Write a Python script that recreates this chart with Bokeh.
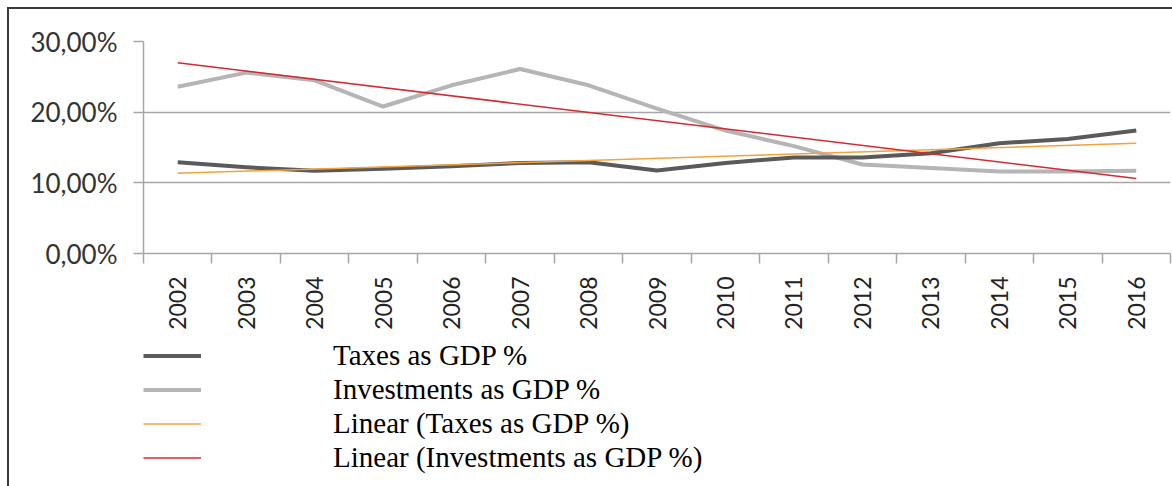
import math
from bokeh.plotting import figure
from bokeh.layouts import column
from bokeh.models import Range1d, FixedTicker, Legend, LegendItem
from bokeh.embed import file_html
from bokeh.resources import INLINE

# ---- data ----
years = [2002, 2003, 2004, 2005, 2006, 2007, 2008, 2009, 2010, 2011, 2012, 2013, 2014, 2015, 2016]
taxes = [12.9, 12.2, 11.7, 12.0, 12.35, 12.8, 12.9, 11.75, 12.8, 13.6, 13.6, 14.2, 15.6, 16.2, 17.4]
investments = [23.6, 25.6, 24.5, 20.8, 23.8, 26.1, 23.8, 20.5, 17.4, 15.2, 12.6, 12.1, 11.6, 11.6, 11.7]
trend_years = [2002, 2016]
taxes_trend = [11.35, 15.6]
investments_trend = [27.0, 10.6]
y_ticks = [0, 10, 20, 30]
y_tick_labels = ["0,00%", "10,00%", "20,00%", "30,00%"]
series_names = ["Taxes as GDP %", "Investments as GDP %",
                "Linear (Taxes as GDP %)", "Linear (Investments as GDP %)"]
series_colors = ["#5a5a5a", "#b5b5b5", "#f2a33a", "#d42a2f"]
series_widths = [4, 4, 1.5, 1.5]

W = 1163
p = figure(width=W, height=325, output_backend="svg", toolbar_location=None,
           x_range=Range1d(years[0] - 0.5, years[-1] + 0.5), y_range=Range1d(0, 30),
           min_border_left=134, min_border_right=2, min_border_top=32, min_border_bottom=81)
p.outline_line_color = None
p.background_fill_color = "white"
p.border_fill_color = "white"

grid_col = "#a6a6a6"

# x axis: labels at category centres, tick marks at category boundaries
xa = p.xaxis[0]
xa.ticker = FixedTicker(ticks=years, minor_ticks=[y - 0.5 for y in years] + [years[-1] + 0.5])
xa.major_label_overrides = {y: str(y) for y in years}
xa.major_label_orientation = math.pi / 2
xa.major_tick_out = 0
xa.major_tick_in = 0
xa.minor_tick_out = 10
xa.minor_tick_in = 0
xa.minor_tick_line_color = grid_col
xa.minor_tick_line_width = 1.5
xa.axis_line_color = grid_col
xa.axis_line_width = 1.5
xa.major_label_standoff = 13
xa.major_label_text_font = "Lato"
xa.major_label_text_font_size = "23px"
xa.major_label_text_color = "#222222"

ya = p.yaxis[0]
ya.ticker = FixedTicker(ticks=y_ticks)
ya.major_label_overrides = dict(zip(y_ticks, y_tick_labels))
ya.major_tick_out = 10
ya.major_tick_in = 0
ya.minor_tick_out = 0
ya.minor_tick_in = 0
ya.major_tick_line_color = grid_col
ya.major_tick_line_width = 1.5
ya.axis_line_color = grid_col
ya.axis_line_width = 1.5
ya.major_label_standoff = 16
ya.major_label_text_font = "Lato"
ya.major_label_text_font_size = "26px"
ya.major_label_text_color = "#333333"

p.xgrid.grid_line_color = None
p.ygrid.ticker = FixedTicker(ticks=y_ticks)
p.ygrid.grid_line_color = grid_col
p.ygrid.grid_line_width = 1.5

p.line(years, investments, line_color=series_colors[1], line_width=series_widths[1], line_join="round")
p.line(years, taxes, line_color=series_colors[0], line_width=series_widths[0], line_join="round")
p.line(trend_years, taxes_trend, line_color=series_colors[2], line_width=series_widths[2])
p.line(trend_years, investments_trend, line_color=series_colors[3], line_width=series_widths[3])

# legend panel (separate figure under the chart); its lines lie outside its view
lg = figure(width=W, height=152, output_backend="svg", toolbar_location=None,
            x_axis_type=None, y_axis_type=None, min_border=0,
            x_range=Range1d(0, 1), y_range=Range1d(0, 1))
lg.outline_line_color = None
lg.xgrid.visible = False
lg.ygrid.visible = False
legend_series = [(years, taxes), (years, investments),
                 (trend_years, taxes_trend), (trend_years, investments_trend)]
items = []
for name, col, lw, (xs, ys) in zip(series_names, series_colors, series_widths, legend_series):
    r = lg.line(xs, ys, line_color=col, line_width=lw)
    items.append(LegendItem(label=name, renderers=[r]))
legend = Legend(items=items, location=(0, 12), padding=0, margin=0, spacing=1,
                glyph_width=58, glyph_height=33, label_height=33, label_standoff=132,
                label_text_font="Liberation Serif", label_text_font_size="29px",
                label_text_color="#000000", border_line_color=None,
                background_fill_alpha=0)
lg.add_layout(legend, "center")

layout = column(p, lg, spacing=0)
layout.styles = {"margin-left": "7px", "margin-top": "7px",
                 "border-top": "2px solid #3a3a3a", "border-left": "2px solid #3a3a3a"}

open("out.html", "w").write(file_html(layout, INLINE))
